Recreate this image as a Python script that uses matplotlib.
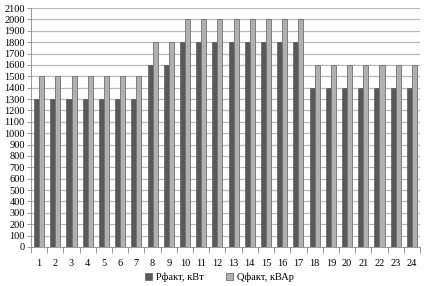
import matplotlib
matplotlib.use("Agg")
import matplotlib.pyplot as plt
import numpy as np

hours = [str(i) for i in range(1, 25)]
p_fact = [1300]*7 + [1600, 1600] + [1800]*8 + [1400]*7
q_fact = [1500]*7 + [1800, 1800] + [2000]*8 + [1600]*7

plt.rcParams['font.family'] = ['Liberation Serif', 'DejaVu Serif']

fig = plt.figure(figsize=(4.33, 2.86), dpi=100)
ax = fig.add_axes([31/433, 39/286, 389/433, 239/286])

x = np.arange(len(hours))
w = 0.31
ax.bar(x - w/2, p_fact, w, color='#595959', edgecolor='#4a4a4a', linewidth=0.4, label='Рфакт, кВт', zorder=3)
ax.bar(x + w/2, q_fact, w, color='#b0b0b0', edgecolor='#707070', linewidth=0.6, label='Qфакт, кВАр', zorder=3)

ax.set_xlim(-0.5, len(hours) - 0.5)
ax.set_ylim(0, 2100)
ax.set_yticks(np.arange(0, 2101, 100))
ax.set_xticks(x)
ax.set_xticklabels(hours)
ax.set_xticks(np.arange(-0.5, len(hours), 1), minor=True)
ax.tick_params(axis='x', which='major', length=0, labelsize=7.5, pad=9)
ax.tick_params(axis='x', which='minor', length=4, color='#888888', width=0.6, direction='out')
ax.tick_params(axis='y', length=3, color='#888888', width=0.6, labelsize=7.5, pad=1.5)
ax.grid(axis='y', color='#b8b8b8', linewidth=0.9, zorder=0)
for s in ['top', 'right']:
    ax.spines[s].set_visible(False)
ax.spines['left'].set_color('#888888')
ax.spines['bottom'].set_color('#888888')
ax.spines['left'].set_linewidth(0.6)
ax.spines['bottom'].set_linewidth(0.6)

fig.legend(loc='lower center', bbox_to_anchor=(0.507, -0.02), ncol=2, frameon=False,
           fontsize=7.5, handlelength=0.6, handleheight=0.6, handletextpad=0.4, columnspacing=2.2)

fig.savefig('out.png', dpi=100)
